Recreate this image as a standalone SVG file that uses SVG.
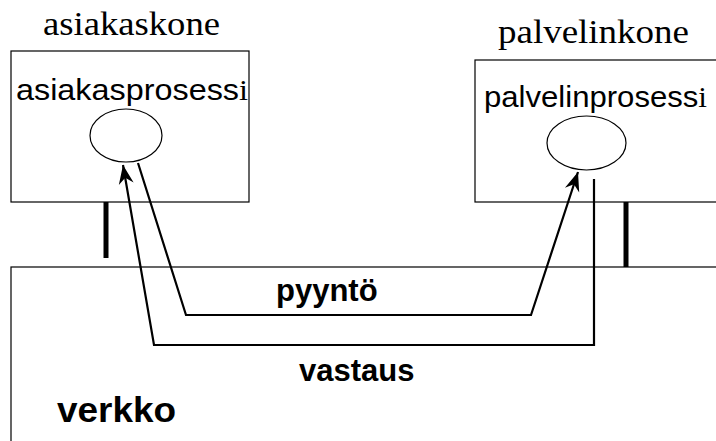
<svg xmlns="http://www.w3.org/2000/svg" width="716" height="441" viewBox="0 0 716 441">
  <style>
    .box { fill: #ffffff; stroke: #000000; stroke-width: 1.2; }
    .proc { fill: #ffffff; stroke: #000000; stroke-width: 1.2; }
    .bar { stroke: #000000; stroke-width: 5; }
    .conn { fill: none; stroke: #000000; stroke-width: 2.2; stroke-linejoin: miter; }
    .serif { font-family: "Liberation Serif", "Times New Roman", serif; fill: #000000; }
    .sans { font-family: "Liberation Sans", Arial, sans-serif; fill: #000000; }
    .bold { font-family: "Liberation Sans", Arial, sans-serif; font-weight: bold; fill: #000000; }
  </style>
  <defs>
    <marker id="arrow" viewBox="-20 -9 21 18" refX="0" refY="0" markerWidth="21" markerHeight="18" markerUnits="userSpaceOnUse" orient="auto">
      <path d="M0,0 L-19,-7.5 L-13,0 L-19,7.5 Z" fill="#000000"/>
    </marker>
  </defs>
  <rect width="716" height="441" fill="#ffffff"/>

  <g id="verkko">
    <rect class="box" x="11" y="267" width="730" height="200"/>
    <text class="bold" x="57" y="422" font-size="35" textLength="119" lengthAdjust="spacingAndGlyphs">verkko</text>
  </g>

  <g id="asiakaskone">
    <text class="serif" x="43" y="35" font-size="34" textLength="177" lengthAdjust="spacingAndGlyphs">asiakaskone</text>
    <rect class="box" x="11" y="51" width="238" height="151"/>
    <line class="bar" x1="106" y1="202" x2="106" y2="258"/>
  </g>
  <g id="asiakasprosessi">
    <text class="sans" x="16" y="100" font-size="29" textLength="232" lengthAdjust="spacingAndGlyphs">asiakasprosess<tspan class="serif">i</tspan></text>
    <ellipse class="proc" cx="126" cy="135.5" rx="36" ry="26.5"/>
  </g>

  <g id="palvelinkone">
    <text class="serif" x="498" y="43" font-size="34" textLength="191" lengthAdjust="spacingAndGlyphs">palvelinkone</text>
    <rect class="box" x="475" y="60" width="260" height="142"/>
    <line class="bar" x1="626" y1="202" x2="626" y2="267"/>
  </g>
  <g id="palvelinprosessi">
    <text class="sans" x="484" y="107" font-size="29" textLength="223" lengthAdjust="spacingAndGlyphs">palvelinprosess<tspan class="serif">i</tspan></text>
    <ellipse class="proc" cx="586.5" cy="143" rx="39.5" ry="27"/>
  </g>

  <g id="connectors">
    <path class="conn" d="M138,163 L186,315 L531,315 L578,172" marker-end="url(#arrow)"/>
    <path class="conn" d="M594,179 L594,345 L154,345 L123,165" marker-end="url(#arrow)"/>
    <text class="bold" x="276" y="301" font-size="31">pyyntö</text>
    <text class="bold" x="299" y="381" font-size="31">vastaus</text>
  </g>
</svg>
